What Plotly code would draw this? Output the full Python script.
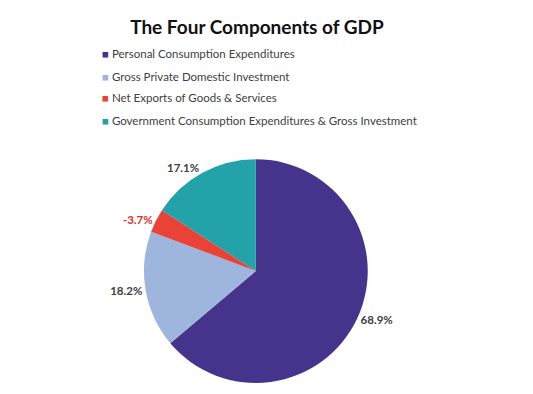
import plotly.graph_objects as go

categories = [
    "Personal Consumption Expenditures",
    "Gross Private Domestic Investment",
    "Net Exports of Goods & Services",
    "Government Consumption Expenditures & Gross Investment",
]
shares = [68.9, 18.2, -3.7, 17.1]
colors = ["#46348C", "#9EB6DE", "#E94237", "#23A2A9"]
label_colors = ["#404040", "#404040", "#D8302A", "#404040"]

W, H = 533, 394
FONT = "Lato, Open Sans, sans-serif"

sizes = [abs(v) for v in shares]
texts = [f"{v:.1f}%" for v in shares]

fig = go.Figure(
    go.Pie(
        labels=categories,
        values=sizes,
        text=texts,
        texttemplate="<b>%{text}</b>",
        textposition="outside",
        textfont=dict(family=FONT, size=11.5, color=label_colors),
        marker=dict(colors=colors, line=dict(width=0)),
        sort=False,
        direction="clockwise",
        rotation=0,
        hoverinfo="label+text",
        domain=dict(x=[0.270, 0.690], y=[0.028, 0.596]),
        showlegend=False,
    )
)

# Legend rendered as annotations (colored square + label)
annotations = []
for i, (cat, col) in enumerate(zip(categories, colors)):
    annotations.append(
        dict(
            text=f"<span style='color:{col}'>■</span> {cat}",
            x=100 / W,
            y=1 - (54 + 22 * i) / H,
            xref="paper",
            yref="paper",
            xanchor="left",
            yanchor="middle",
            showarrow=False,
            font=dict(family=FONT, size=11.5, color="#404040"),
        )
    )

fig.update_layout(
    width=W,
    height=H,
    margin=dict(l=0, r=0, t=0, b=0),
    paper_bgcolor="white",
    plot_bgcolor="white",
    title=dict(
        text="<b>The Four Components of GDP</b>",
        x=257 / W,
        xanchor="center",
        y=1 - 27 / H,
        yanchor="middle",
        font=dict(family=FONT, size=19, color="#111111"),
    ),
    annotations=annotations,
)

fig.write_html(
    "out.html",
    config={"displayModeBar": False},
    post_script="document.body.style.margin='0';",
)
